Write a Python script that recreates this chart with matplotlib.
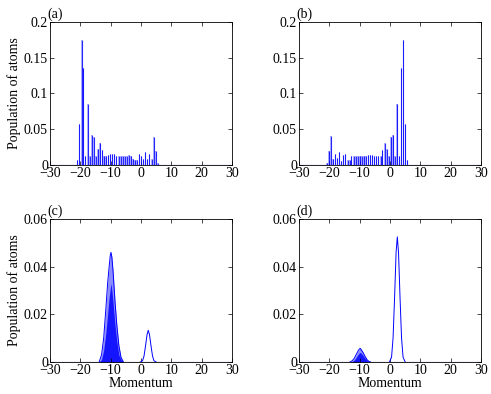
import matplotlib
matplotlib.use('Agg')
import matplotlib.pyplot as plt

plt.rcParams['font.family'] = ['Liberation Serif', 'DejaVu Serif']
plt.rcParams['font.size'] = 10
plt.rcParams['mathtext.fontset'] = 'stix'

# (a) momentum components and their populations
a_mom = [-21.0, -20.3, -19.6, -19.0, -18.3, -17.6, -16.9, -16.2, -15.6, -14.9,
         -14.2, -13.5, -12.8, -12.2, -11.5, -10.8, -10.1, -9.4, -8.8, -8.1,
         -7.4, -6.7, -6.0, -5.4, -4.7, -4.0, -3.3, -2.6, -2.0, -1.3,
         -0.6, 0.1, 0.8, 1.4, 2.1, 2.8, 3.5, 4.2, 4.8, 5.5]
a_pop = [0.007, 0.057, 0.175, 0.136, 0.012, 0.085, 0.013, 0.042, 0.039, 0.012,
         0.022, 0.031, 0.021, 0.012, 0.013, 0.014, 0.015, 0.015, 0.015, 0.013,
         0.012, 0.012, 0.012, 0.012, 0.013, 0.014, 0.012, 0.008, 0.007, 0.007,
         0.015, 0.012, 0.008, 0.018, 0.008, 0.016, 0.008, 0.039, 0.020, 0.003]

# (b)
b_mom = [-20.8, -20.1, -19.5, -18.8, -18.1, -17.4, -16.7, -16.1, -15.4, -14.7,
         -14.0, -13.3, -12.7, -12.0, -11.3, -10.6, -9.9, -9.3, -8.6, -7.9,
         -7.2, -6.5, -5.8, -5.2, -4.5, -3.8, -3.1, -2.5, -1.8, -1.1,
         -0.4, 0.3, 1.0, 1.6, 2.3, 3.0, 3.7, 4.4, 5.0, 5.7]
b_pop = [0.003, 0.020, 0.040, 0.008, 0.016, 0.010, 0.018, 0.006, 0.014, 0.015,
         0.007, 0.007, 0.012, 0.013, 0.013, 0.012, 0.012, 0.012, 0.012, 0.013,
         0.014, 0.014, 0.014, 0.013, 0.012, 0.012, 0.013, 0.021, 0.031, 0.023,
         0.012, 0.039, 0.042, 0.013, 0.085, 0.012, 0.136, 0.175, 0.057, 0.007]

# (c) broad oscillating packet near -10 plus a small peak near 2.4
c_pk_mom = [-13.8, -13.0, -12.3, -11.6, -11.0, -10.5, -10.1, -9.9, -9.6, -9.2,
            -8.6, -8.0, -7.3, -6.6, -5.8]
c_pk_upper = [0.0, 0.003, 0.010, 0.022, 0.033, 0.040, 0.045, 0.046, 0.044, 0.038,
              0.026, 0.016, 0.007, 0.002, 0.0]
c_pk_lower = [0.0, 0.001, 0.005, 0.012, 0.020, 0.027, 0.031, 0.033, 0.030, 0.025,
              0.016, 0.009, 0.003, 0.001, 0.0]
peak_mom = [-0.2, 0.5, 1.0, 1.5, 2.0, 2.4, 2.8, 3.3, 3.8, 4.3, 5.0]
c_peak = [0.0, 0.0005, 0.0025, 0.0068, 0.0115, 0.0133, 0.0115, 0.0068, 0.0025, 0.0005, 0.0]

# (d)
d_pk_mom = [-13.2, -12.5, -11.8, -11.2, -10.6, -10.1, -9.8, -9.4, -8.9, -8.3,
            -7.6, -7.0, -6.4]
d_pk_upper = [0.0, 0.0005, 0.0015, 0.003, 0.0045, 0.0055, 0.0057, 0.005, 0.004,
              0.0025, 0.001, 0.0003, 0.0]
d_pk_lower = [0.0, 0.0002, 0.0008, 0.0018, 0.003, 0.0038, 0.004, 0.0035, 0.0027,
              0.0016, 0.0006, 0.0001, 0.0]
d_peak = [0.0, 0.002, 0.010, 0.027, 0.046, 0.0525, 0.046, 0.027, 0.010, 0.002, 0.0]

x_ticks = [-30, -20, -10, 0, 10, 20, 30]

fig = plt.figure(figsize=(4.91, 3.94), dpi=100)
ax_a = fig.add_axes([0.1018, 0.5812, 0.3707, 0.363])
ax_b = fig.add_axes([0.609, 0.5812, 0.3707, 0.363])
ax_c = fig.add_axes([0.1018, 0.0812, 0.3707, 0.363])
ax_d = fig.add_axes([0.609, 0.0812, 0.3707, 0.363])


def style(ax, label, ylim, yticks, ylabels):
    ax.axhline(0, color='blue', lw=0.8, zorder=1)
    ax.set_xlim(-30, 30)
    ax.set_ylim(*ylim)
    ax.set_xticks(x_ticks)
    ax.set_yticks(yticks)
    ax.set_yticklabels(ylabels)
    ax.tick_params(direction='in', top=True, right=True, length=3, width=0.5, pad=1.5)
    for s in ax.spines.values():
        s.set_linewidth(0.6)
    ax.text(-0.015, 1.01, label, transform=ax.transAxes, ha='left', va='bottom')


for ax, mom, pop in [(ax_a, a_mom, a_pop), (ax_b, b_mom, b_pop)]:
    ax.bar(mom, pop, width=0.4, color='blue', alpha=0.3, lw=0)
    ax.vlines(mom, 0, pop, color='blue', lw=0.8, alpha=0.85)

for ax, mom, up, lo, pk in [(ax_c, c_pk_mom, c_pk_upper, c_pk_lower, c_peak),
                            (ax_d, d_pk_mom, d_pk_upper, d_pk_lower, d_peak)]:
    ax.fill_between(mom, 0, up, color='blue', alpha=0.45, lw=0)
    ax.fill_between(mom, 0, lo, color='blue', alpha=0.85, lw=0)
    ax.plot(mom, up, color='blue', lw=0.7)
    ax.plot(peak_mom, pk, color='blue', lw=0.7)

style(ax_a, '(a)', (0, 0.2), [0, 0.05, 0.1, 0.15, 0.2], ['0', '0.05', '0.1', '0.15', '0.2'])
style(ax_b, '(b)', (0, 0.2), [0, 0.05, 0.1, 0.15, 0.2], ['0', '0.05', '0.1', '0.15', '0.2'])
style(ax_c, '(c)', (0, 0.06), [0, 0.02, 0.04, 0.06], ['0', '0.02', '0.04', '0.06'])
style(ax_d, '(d)', (0, 0.06), [0, 0.02, 0.04, 0.06], ['0', '0.02', '0.04', '0.06'])

ax_a.set_ylabel('Population of atoms', labelpad=2)
ax_c.set_ylabel('Population of atoms', labelpad=2)
ax_c.set_xlabel('Momentum', labelpad=0)
ax_d.set_xlabel('Momentum', labelpad=0)

fig.savefig('out.png', dpi=100)
